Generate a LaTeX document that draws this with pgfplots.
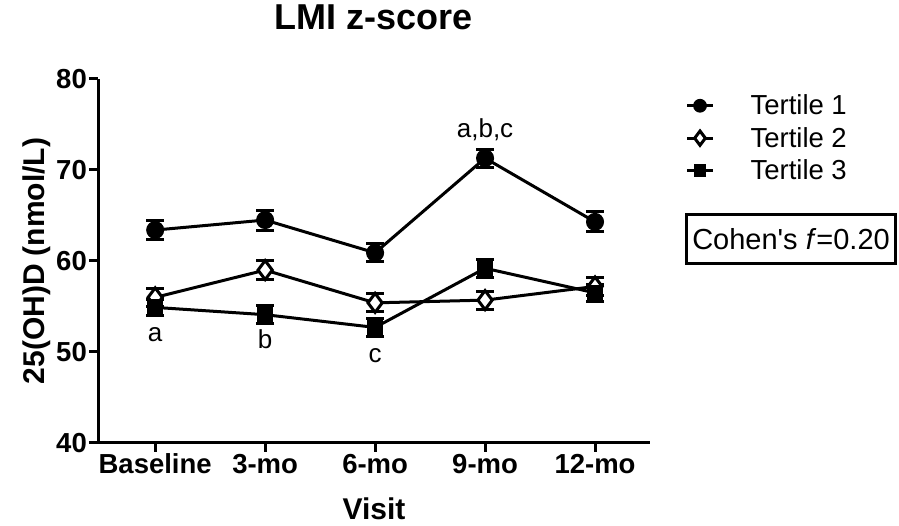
\documentclass[border=0pt]{standalone}
\usepackage{pgfplots}
\pgfplotsset{compat=1.18}
\usepackage{fontspec}
\setmainfont{Liberation Sans}
\newfontfamily\plainarial{Liberation Sans}
\begin{document}
\begin{tikzpicture}
\path[use as bounding box] (0,0) rectangle (899pt,526pt);
\begin{axis}[
  at={(98pt,83pt)}, anchor=south west,
  width=552pt, height=364pt, scale only axis,
  xmin=-0.52, xmax=4.5, ymin=40, ymax=80,
  axis lines=left, axis line style={-, line width=3pt},
  clip=false,
  xtick={0,1,2,3,4},
  xticklabels={Baseline,3-mo,6-mo,9-mo,12-mo},
  ytick={40,50,60,70,80},
  tick align=outside, major tick length=9pt,
  tick style={line width=3pt, black},
  /pgf/number format/assume math mode=true,
  ticklabel style={font=\fontsize{27.5}{27.5}\selectfont\bfseries},
  yticklabel style={inner sep=2pt},
  xticklabel style={inner sep=2pt, text height=19.7pt, text depth=0pt},
  title={LMI z-score},
  title style={font=\fontsize{36}{36}\selectfont\bfseries, at={(axis description cs:0.5,1)}, anchor=base, yshift=43pt},
  xlabel={Visit},
  xlabel style={font=\fontsize{30}{30}\selectfont\bfseries, at={(axis description cs:0.5,0)}, anchor=base, yshift=-77pt},
  ylabel={25(OH)D (nmol/L)},
  ylabel style={font=\fontsize{30}{30}\selectfont\bfseries, at={(axis description cs:-0.0978,0.5)}, rotate=0, anchor=base},
  legend style={at={(axis description cs:1.064,0.962)}, anchor=north west, draw=none, fill=none, inner sep=0pt, row sep=7pt, column sep=34pt, font=\fontsize{27.5}{27.5}\selectfont},
  legend cell align=left,
  legend image code/.code={\draw[mark repeat=2, mark phase=2, #1, every mark/.append style={scale=0.75}] plot coordinates {(0pt,0pt) (13pt,0pt) (26pt,0pt)};},
  every axis plot/.append style={line width=3pt, black},
  error bars/y dir=both, error bars/y explicit,
  error bars/error mark options={rotate=90, mark size=9pt, line width=3pt, black},
  error bars/error bar style={line width=3pt, black},
]
\addplot[mark=*, mark size=8.5pt, mark options={solid, fill=black, line width=1pt}] coordinates {
  (0,63.4) +- (0,1.0)
  (1,64.5) +- (0,1.1)
  (2,60.9) +- (0,1.0)
  (3,71.3) +- (0,1.0)
  (4,64.3) +- (0,1.1)
};
\addlegendentry{Tertile 1}
\addplot[mark=diamond*, mark size=9.5pt, mark options={solid, fill=white, draw=black, line width=3pt}] coordinates {
  (0,56.0) +- (0,1.0)
  (1,59.0) +- (0,1.0)
  (2,55.4) +- (0,1.0)
  (3,55.7) +- (0,1.0)
  (4,57.2) +- (0,1.0)
};
\addlegendentry{Tertile 2}
\addplot[mark=square*, mark size=7.5pt, mark options={solid, fill=black, line width=1pt}] coordinates {
  (0,54.9) +- (0,0.9)
  (1,54.1) +- (0,1.0)
  (2,52.7) +- (0,1.0)
  (3,59.2) +- (0,1.0)
  (4,56.5) +- (0,0.9)
};
\addlegendentry{Tertile 3}
\node[font=\fontsize{26}{26}\selectfont, anchor=base] at (axis cs:0,51.1) {a};
\node[font=\fontsize{26}{26}\selectfont, anchor=base] at (axis cs:1,50.4) {b};
\node[font=\fontsize{26}{26}\selectfont, anchor=base] at (axis cs:2,48.9) {c};
\node[font=\fontsize{26}{26}\selectfont, anchor=base] at (axis cs:3,73.6) {a,b,c};
\end{axis}
\node[draw, line width=3pt, minimum width=209pt, minimum height=49pt, inner sep=0pt, font=\plainarial\fontsize{29}{29}\selectfont] at (791pt,287pt) {Cohen's \textit{f}=0.20};
\end{tikzpicture}
\end{document}
